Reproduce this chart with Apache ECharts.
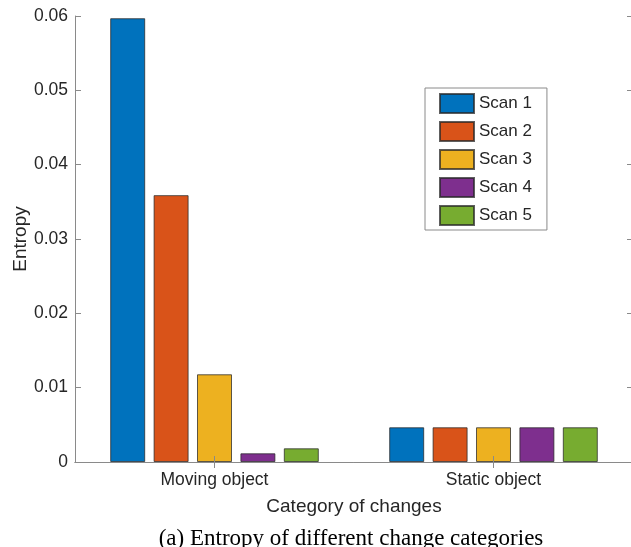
<!DOCTYPE html>
<html>
<head>
<meta charset="utf-8">
<script src="https://cdn.jsdelivr.net/npm/echarts@6/dist/echarts.min.js"></script>
<style>
  html, body { margin: 0; padding: 0; background: #fff; }
  #chart { width: 631px; height: 547px; }
</style>
</head>
<body>
<div id="chart"></div>
<script>
// Category labels along the x axis
const categories = ['Moving object', 'Static object'];
// Entropy per scan for each change category
const scanNames = ['Scan 1', 'Scan 2', 'Scan 3', 'Scan 4', 'Scan 5'];
const scan1 = [0.0597, 0.00467];
const scan2 = [0.0359, 0.00467];
const scan3 = [0.0118, 0.00467];
const scan4 = [0.00117, 0.00467];
const scan5 = [0.00184, 0.00467];
const scanValues = [scan1, scan2, scan3, scan4, scan5];
const scanColors = ['#0072BD', '#D95319', '#EDB120', '#7E2F8E', '#77AC30'];

const axisGray = '#8a8a8a';
const textDark = '#262626';
const sans = 'Liberation Sans, Arial, sans-serif';

const chart = echarts.init(document.getElementById('chart'), null, { renderer: 'canvas' });

const yCommon = {
  type: 'value', min: 0, max: 0.06, interval: 0.01,
  splitLine: { show: false },
  axisLine: { show: true, lineStyle: { color: axisGray, width: 1 } },
  axisTick: { show: true, inside: true, length: 6, lineStyle: { color: axisGray } }
};
const xCommon = {
  type: 'category', data: categories,
  axisLine: { show: true, lineStyle: { color: axisGray, width: 1 } },
  axisTick: { show: true, inside: true, length: 6, alignWithLabel: true, lineStyle: { color: axisGray } },
  z: 5
};

chart.setOption({
  animation: false,
  backgroundColor: '#fff',
  grid: { left: 75, top: 16, width: 558, height: 446, containLabel: false, outerBoundsMode: 'none' },
  title: {
    text: '(a) Entropy of different change categories',
    left: 346, top: 522, textAlign: 'center',
    textStyle: { fontFamily: 'Liberation Serif, Times New Roman, serif', fontWeight: 'normal', fontSize: 23, color: '#000' }
  },
  legend: {
    orient: 'vertical', left: 425, top: 88,
    padding: [5, 15, 4, 14],
    icon: 'rect',
    itemWidth: 34, itemHeight: 19, itemGap: 7, itemTextGap: 3,
    backgroundColor: '#fff', borderColor: axisGray, borderWidth: 1,
    textStyle: { fontFamily: sans, fontSize: 17, color: textDark },
    data: scanNames
  },
  xAxis: [
    Object.assign({}, xCommon, {
      position: 'bottom',
      axisLabel: { show: true, margin: 9, fontFamily: sans, fontSize: 17.5, color: textDark },
      name: 'Category of changes', nameLocation: 'middle', nameGap: 35,
      nameTextStyle: { fontFamily: sans, fontSize: 19, color: textDark }
    }),
    Object.assign({}, xCommon, { position: 'top', axisLabel: { show: false } })
  ],
  yAxis: [
    Object.assign({}, yCommon, {
      position: 'left',
      axisLabel: { show: true, margin: 7, fontFamily: sans, fontSize: 17.5, color: textDark },
      name: 'Entropy', nameLocation: 'middle', nameGap: 45, nameMoveOverlap: false,
      nameTextStyle: { fontFamily: sans, fontSize: 19, color: textDark }
    }),
    Object.assign({}, yCommon, { position: 'right', axisLabel: { show: false } })
  ],
  series: scanValues.map((vals, i) => ({
    name: scanNames[i],
    type: 'bar',
    xAxisIndex: 0, yAxisIndex: 0,
    data: vals,
    barWidth: 35,
    barGap: '24%',
    itemStyle: { color: scanColors[i], borderColor: 'rgba(40,40,40,0.75)', borderWidth: 1 }
  }))
});
</script>
</body>
</html>
